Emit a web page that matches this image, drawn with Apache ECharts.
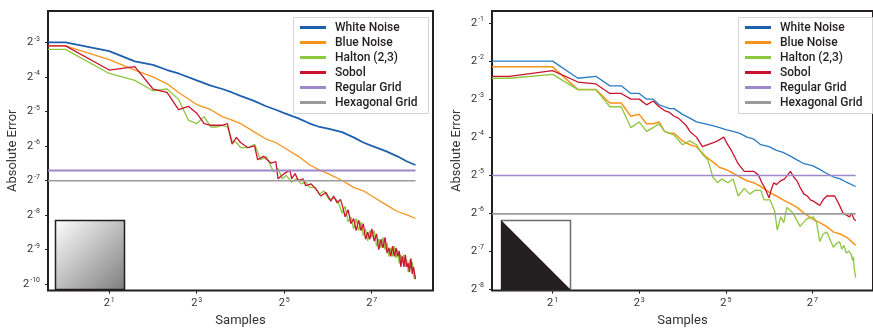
<!DOCTYPE html>
<html>
<head>
<meta charset="utf-8">
<script src="https://cdn.jsdelivr.net/npm/echarts@6/dist/echarts.min.js"></script>
<style>
  html, body { margin: 0; padding: 0; background: #ffffff; }
  #chart { width: 873px; height: 332px; }
</style>
</head>
<body>
<div id="chart"></div>
<script>
// ---------- data: absolute error vs. number of samples ----------
const seriesNames = ['White Noise', 'Blue Noise', 'Halton (2,3)', 'Sobol', 'Regular Grid', 'Hexagonal Grid'];

// tick positions (powers of two)
const xTickValues = [2, 8, 32, 128];
const yTicksLeft = [0.0009765625, 0.001953125, 0.00390625, 0.0078125, 0.015625, 0.03125, 0.0625, 0.125];
const yTicksRight = [0.00390625, 0.0078125, 0.015625, 0.03125, 0.0625, 0.125, 0.25, 0.5];

// left plot (smooth gradient integrand)
const leftSmoothSamples = [0.758, 1, 2, 3, 4, 5, 6, 8, 10, 12, 14, 16, 20, 24, 28, 32, 40, 48, 56, 64, 80, 96, 112, 128, 160, 192, 224, 256];
const leftWhiteNoise = [0.125, 0.125, 0.1051, 0.0854, 0.0797, 0.0718, 0.0670, 0.05831, 0.05256, 0.04904, 0.04575, 0.04269, 0.03848, 0.03468, 0.03235, 0.03018, 0.02721, 0.02452, 0.02288, 0.02210, 0.02062, 0.01858, 0.01675, 0.01563, 0.01408, 0.01269, 0.01144, 0.01067];
const leftBlueNoise = [0.1166, 0.1166, 0.0884, 0.0718, 0.0625, 0.05441, 0.04575, 0.03589, 0.03235, 0.02817, 0.02628, 0.02452, 0.02062, 0.01795, 0.01675, 0.01509, 0.01269, 0.01067, 0.00962, 0.00897, 0.00781, 0.00680, 0.00635, 0.00572, 0.00481, 0.00419, 0.00391, 0.00364];

const leftHaltonSamples = [0.758, 1, 2, 3, 4, 5, 6, 7, 8, 9, 10, 11, 12, 13, 14, 15, 16, 18, 20, 22, 24, 27, 29, 31, 33, 36, 39, 42, 45, 48, 52, 56, 60, 65, 70, 75,
  80, 84, 88, 92, 96, 100, 104, 108, 112, 116, 120, 124, 128, 133, 138, 143, 148, 153, 158, 163, 168, 173, 178, 183, 188, 193, 198, 203, 208, 213, 218, 223, 228, 233, 238, 243, 248, 252, 256];
const leftHalton = [0.1088, 0.1088, 0.0670, 0.05831, 0.04737, 0.04904, 0.03983, 0.02628, 0.02452, 0.02817, 0.02288, 0.02288, 0.02368, 0.02288, 0.01734, 0.01675, 0.01509, 0.01509, 0.01618, 0.01184, 0.01269, 0.00929, 0.00996, 0.00809, 0.00867, 0.00755, 0.00809, 0.00729, 0.00755, 0.00680, 0.00680, 0.00592, 0.00635, 0.00534, 0.00552, 0.00515,
  0.00404, 0.00465, 0.00340, 0.00377, 0.00296, 0.00364, 0.00286, 0.00340, 0.00258, 0.00296, 0.00232, 0.00286, 0.00249, 0.00286, 0.00209, 0.00240, 0.00202, 0.00249, 0.00195, 0.00224, 0.00170, 0.00202, 0.00170, 0.00209, 0.00164, 0.00195, 0.00148, 0.00176, 0.00153, 0.00176, 0.00138, 0.00159, 0.00124, 0.00159, 0.00133, 0.00153, 0.00116, 0.00108, 0.00116];

const leftSobolSamples = [0.758, 1, 2, 3, 4, 5, 6, 7, 8, 9, 10, 11, 12, 13, 14, 15, 16, 18, 20, 21, 23, 26, 28, 29, 32, 35, 36, 38, 40, 43, 45, 49, 53, 57, 62, 67, 70, 74, 78,
  80, 84, 88, 92, 96, 100, 104, 108, 112, 116, 120, 124, 128, 133, 138, 143, 148, 153, 158, 163, 168, 173, 178, 183, 188, 193, 198, 203, 208, 213, 218, 223, 228, 233, 238, 243, 248, 252, 256];
const leftSobol = [0.1166, 0.1166, 0.0718, 0.0770, 0.04904, 0.04575, 0.03235, 0.03468, 0.03018, 0.02452, 0.02368, 0.02368, 0.02368, 0.02452, 0.01618, 0.01858, 0.01675, 0.01509, 0.01563, 0.01184, 0.01269, 0.01105, 0.01144, 0.00809, 0.00897, 0.00962, 0.00809, 0.00897, 0.00781, 0.00809, 0.00704, 0.00729, 0.00657, 0.00572, 0.00613, 0.00515, 0.00572, 0.00498, 0.00534,
  0.00481, 0.00377, 0.00433, 0.00328, 0.00364, 0.00286, 0.00352, 0.00286, 0.00328, 0.00240, 0.00276, 0.00240, 0.00296, 0.00232, 0.00267, 0.00195, 0.00240, 0.00202, 0.00249, 0.00182, 0.00202, 0.00170, 0.00209, 0.00170, 0.00202, 0.00170, 0.00189, 0.00138, 0.00170, 0.00138, 0.00176, 0.00138, 0.00148, 0.00124, 0.00164, 0.00120, 0.00138, 0.00143, 0.00108];

const leftGridSpan = [0.758, 256];
const leftRegularGrid = [0.00955, 0.00955];
const leftHexGrid = [0.00776, 0.00776];

// right plot (discontinuous step integrand)
const rightWhiteSamples = [0.758, 1, 2, 3, 4, 5, 6, 7, 8, 9, 10, 11, 12, 13, 14, 16, 18, 20, 23, 26, 29, 32, 36, 40, 45, 50, 56, 64, 72, 80, 90, 100, 112, 128, 144, 160, 180, 200, 224, 256];
const rightWhiteNoise = [0.25, 0.25, 0.25, 0.1830, 0.1895, 0.1593, 0.1593, 0.1387, 0.1387, 0.125, 0.125, 0.1127, 0.1088, 0.1051, 0.1051, 0.0947, 0.0884, 0.0825, 0.0797, 0.0770, 0.0743, 0.0718, 0.0694, 0.0670, 0.0625, 0.06037, 0.05441, 0.05256, 0.04904, 0.04737, 0.04419, 0.04124, 0.03848, 0.03716, 0.03468, 0.03235, 0.03018, 0.02916, 0.02721, 0.02538];

const rightBlueSamples = [0.758, 1, 2, 3, 4, 5, 6, 7, 8, 9, 10, 11, 12, 13, 14, 16, 18, 20, 23, 26, 29, 32, 36, 40, 45, 50, 56, 64, 72, 80, 90, 100, 112, 128, 144, 160, 180, 200, 224, 240, 256];
const rightBlueNoise = [0.2253, 0.2253, 0.2253, 0.1487, 0.1487, 0.1166, 0.1166, 0.0915, 0.0947, 0.0797, 0.0797, 0.0825, 0.0694, 0.0670, 0.0670, 0.05831, 0.05441, 0.05256, 0.04419, 0.03983, 0.03589, 0.03468, 0.03235, 0.03018, 0.02817, 0.02721, 0.02538, 0.02288, 0.02134, 0.01992, 0.01858, 0.01734, 0.01563, 0.01408, 0.01314, 0.01226, 0.01105, 0.01067, 0.00996, 0.00929, 0.00867];

const rightHaltonSamples = [0.758, 1, 2, 3, 4, 5, 6, 7, 8, 9, 10, 11, 12, 14, 16, 18, 20, 22, 24, 26, 28, 30, 33, 36, 39, 43, 47, 51, 56, 59, 65, 70, 73, 77, 81, 85, 94, 105, 117, 130, 137, 144, 152, 161, 170, 179, 188, 198, 205, 212, 220, 230, 239, 244, 247, 250, 256];
const rightHalton = [0.1830, 0.1830, 0.1962, 0.1487, 0.1487, 0.1088, 0.1088, 0.0743, 0.0825, 0.0694, 0.0743, 0.0797, 0.0694, 0.0647, 0.05441, 0.05831, 0.05441, 0.04575, 0.04124, 0.03018, 0.02721, 0.02916, 0.02721, 0.02916, 0.02134, 0.02452, 0.02210, 0.02368, 0.02368, 0.01992, 0.01992, 0.01618, 0.01144, 0.01458, 0.01314, 0.01734, 0.01563, 0.01226, 0.01408, 0.01458, 0.01314, 0.00929, 0.01067, 0.01105, 0.00962, 0.00837, 0.00897, 0.00929, 0.00809, 0.00867, 0.00755, 0.00781, 0.00729, 0.00657, 0.00704, 0.00572, 0.00481];

const rightSobolSamples = [0.758, 1, 2, 3, 4, 5, 6, 7, 8, 9, 10, 11, 12, 13, 14, 15, 17, 18, 20, 22, 24, 26, 28, 31, 33, 35, 39, 43, 47, 50, 54, 57, 60, 64, 66, 69, 72, 77, 82, 86, 90, 95, 100, 106, 112, 118, 124, 132, 138, 144, 152, 161, 172, 183, 195, 209, 220, 232, 240, 248, 256];
const rightSobol = [0.1895, 0.1895, 0.2102, 0.1708, 0.1650, 0.1387, 0.1387, 0.125, 0.125, 0.1127, 0.1207, 0.1088, 0.1015, 0.0981, 0.0915, 0.0884, 0.0770, 0.0694, 0.0625, 0.05256, 0.05441, 0.05633, 0.05831, 0.0625, 0.05441, 0.04904, 0.03848, 0.03349, 0.03349, 0.03349, 0.03125, 0.02721, 0.02452, 0.02062, 0.02368, 0.02721, 0.02628, 0.02817, 0.02916, 0.03125, 0.03349, 0.03018, 0.02817, 0.02452, 0.02210, 0.02134, 0.01992, 0.01924, 0.01858, 0.01795, 0.01992, 0.02134, 0.02134, 0.02134, 0.01858, 0.01563, 0.01509, 0.01458, 0.01563, 0.01408, 0.01360];

const rightGridSpan = [0.758, 256];
const rightRegularGrid = [0.0310, 0.0310];
const rightHexGrid = [0.0154, 0.0154];

// ---------- styling ----------
const FONT = 'Roboto, "Noto Sans", sans-serif';
const INK = '#231f20';
const TEXT = '#333333';
const colors = {
  white: '#1f5fae', whiteRight: '#2b7bc3', blue: '#f7941d', halton: '#8dc63f',
  sobol: '#c8142f', regular: '#9f88c9', hex: '#9b9b9b'
};

function pairs(xs, ys) { return xs.map((x, i) => [x, ys[i]]); }

function powLabel(v) {
  const e = Math.round(Math.log2(v));
  return '{b|2}{s|' + e + '}';
}
const labelRich = {
  b: { fontFamily: FONT, fontSize: 11, color: TEXT, lineHeight: 14 },
  s: { fontFamily: FONT, fontSize: 7, color: TEXT, lineHeight: 14, verticalAlign: 'top', padding: [0, 0, 2, 1] }
};

function xAxisFor(gridIndex) {
  return {
    type: 'log', logBase: 2, gridIndex,
    min: 0.7579, max: 337.8,
    name: 'Samples', nameLocation: 'middle', nameGap: 22,
    nameTextStyle: { fontFamily: FONT, fontSize: 13, color: TEXT },
    axisLine: { show: false },
    axisTick: { show: true, customValues: xTickValues, length: 3, lineStyle: { color: INK, width: 1 } },
    axisLabel: { customValues: xTickValues, formatter: powLabel, rich: labelRich, margin: 6 },
    splitLine: { show: false }
  };
}
function yAxisFor(gridIndex, min, max, ticks) {
  return {
    type: 'log', logBase: 2, gridIndex, min, max,
    name: 'Absolute Error', nameLocation: 'middle', nameGap: 29,
    nameTextStyle: { fontFamily: FONT, fontSize: 13, color: TEXT },
    axisLine: { show: false },
    axisTick: { show: true, customValues: ticks, length: 3, lineStyle: { color: INK, width: 1 } },
    axisLabel: { customValues: ticks, formatter: powLabel, rich: labelRich, margin: 8 },
    splitLine: { show: false }
  };
}

function lineSeries(name, axisIndex, data, color, width, z) {
  return {
    name, type: 'line', xAxisIndex: axisIndex, yAxisIndex: axisIndex,
    data, symbol: 'none', showSymbol: false, animation: false, clip: true,
    lineStyle: { color, width }, itemStyle: { color }, z: z || 2
  };
}

function legendFor(left) {
  return {
    data: seriesNames, orient: 'vertical', left, top: 20,
    icon: 'rect', itemWidth: 26, itemHeight: 3, itemGap: 0, padding: 0,
    selectedMode: false, z: 10,
    textStyle: { fontFamily: FONT, fontSize: 12, fontWeight: 500, color: INK, lineHeight: 15, padding: [0, 0, 0, 4] }
  };
}

const chart = echarts.init(document.getElementById('chart'), null, { renderer: 'canvas' });

chart.setOption({
  backgroundColor: '#ffffff',
  animation: false,
  grid: [
    { left: 48, top: 11, width: 385, height: 285, show: true, borderColor: INK, borderWidth: 2, backgroundColor: 'transparent' },
    { left: 492, top: 11, width: 385, height: 285, show: true, borderColor: INK, borderWidth: 2, backgroundColor: 'transparent' }
  ],
  xAxis: [xAxisFor(0), xAxisFor(1)],
  yAxis: [
    yAxisFor(0, 0.000856, 0.2349, yTicksLeft),
    yAxisFor(1, 0.0038, 0.6242, yTicksRight)
  ],
  legend: [legendFor(300), legendFor(745)],
  series: [
    lineSeries('White Noise', 0, pairs(leftSmoothSamples, leftWhiteNoise), colors.white, 1.8),
    lineSeries('Blue Noise', 0, pairs(leftSmoothSamples, leftBlueNoise), colors.blue, 1.3),
    lineSeries('Halton (2,3)', 0, pairs(leftHaltonSamples, leftHalton), colors.halton, 1.3),
    lineSeries('Sobol', 0, pairs(leftSobolSamples, leftSobol), colors.sobol, 1.3),
    lineSeries('Regular Grid', 0, pairs(leftGridSpan, leftRegularGrid), colors.regular, 1.8),
    lineSeries('Hexagonal Grid', 0, pairs(leftGridSpan, leftHexGrid), colors.hex, 1.5),

    lineSeries('White Noise', 1, pairs(rightWhiteSamples, rightWhiteNoise), colors.whiteRight, 1.3),
    lineSeries('Blue Noise', 1, pairs(rightBlueSamples, rightBlueNoise), colors.blue, 1.5),
    lineSeries('Halton (2,3)', 1, pairs(rightHaltonSamples, rightHalton), colors.halton, 1.3),
    lineSeries('Sobol', 1, pairs(rightSobolSamples, rightSobol), colors.sobol, 1.3),
    lineSeries('Regular Grid', 1, pairs(rightGridSpan, rightRegularGrid), colors.regular, 1.5),
    lineSeries('Hexagonal Grid', 1, pairs(rightGridSpan, rightHexGrid), colors.hex, 1.8)
  ],
  graphic: [
    // legend frames
    { type: 'rect', z: 5, shape: { x: 293.5, y: 17.5, width: 135, height: 96 },
      style: { fill: '#ffffff', stroke: '#d4d4d4', lineWidth: 1 } },
    { type: 'rect', z: 5, shape: { x: 738.5, y: 17.5, width: 134, height: 96 },
      style: { fill: '#ffffff', stroke: '#d4d4d4', lineWidth: 1 } },
    // integrand thumbnails
    { type: 'rect', z: 5, shape: { x: 55.5, y: 220.5, width: 69, height: 69 },
      style: {
        fill: new echarts.graphic.LinearGradient(0, 0, 1, 1, [
          { offset: 0, color: '#ffffff' }, { offset: 1, color: '#7d7d7d' }
        ]),
        stroke: INK, lineWidth: 1.5
      } },
    { type: 'rect', z: 5, shape: { x: 501.5, y: 220.5, width: 69, height: 69 },
      style: { fill: '#ffffff', stroke: '#6b6b6b', lineWidth: 1.5 } },
    { type: 'polygon', z: 6, shape: { points: [[501, 220], [501, 290], [571, 290]] },
      style: { fill: INK } }
  ]
});
</script>
</body>
</html>
